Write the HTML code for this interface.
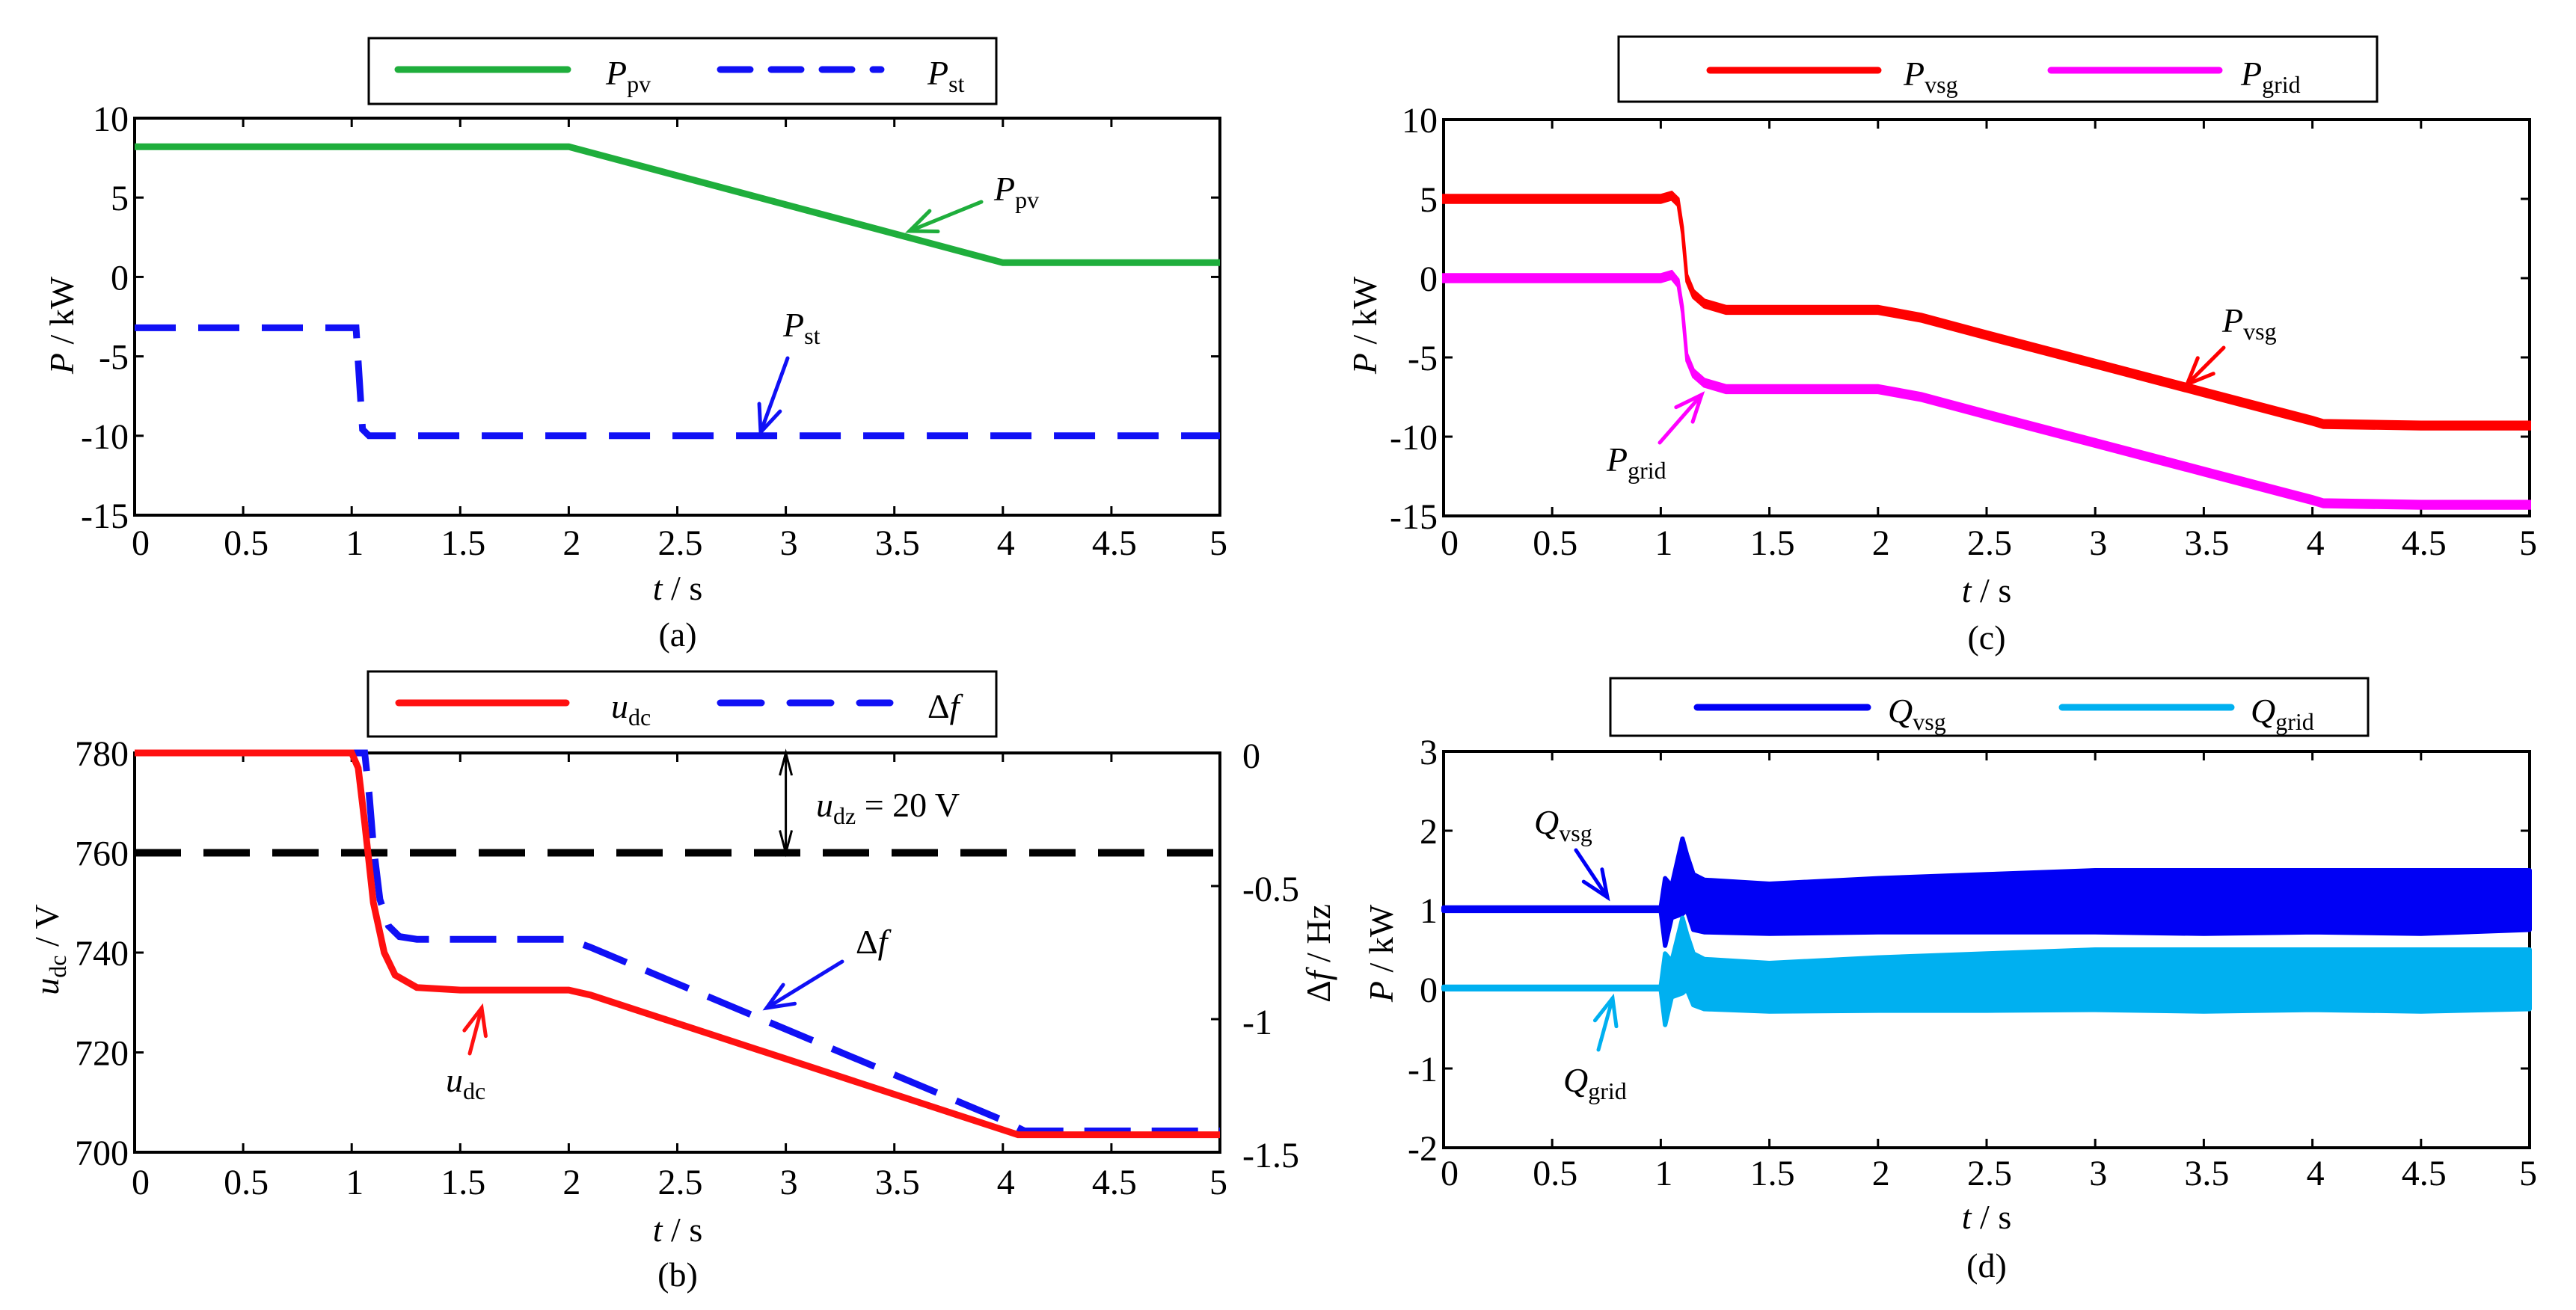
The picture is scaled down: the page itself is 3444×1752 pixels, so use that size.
<!DOCTYPE html>
<html><head><meta charset="utf-8"><style>
html,body{margin:0;padding:0;background:#fff;}
svg{display:block;font-family:"Liberation Serif",serif;}
</style></head><body>
<svg id="fig" width="3444" height="1752" viewBox="0 0 3444 1752" xmlns="http://www.w3.org/2000/svg">
<rect width="3444" height="1752" fill="#fff"/>
</svg>
<script>
// ---------- data ----------
const tickX = [0,0.5,1,1.5,2,2.5,3,3.5,4,4.5,5];
const tickLabelsX = ["0","0.5","1","1.5","2","2.5","3","3.5","4","4.5","5"];
// panel a
const tA_pv = [0,2,4,5];
const pPv = [8.2,8.2,0.9,0.9];
const tA_st = [0,1.02,1.05,1.08,5];
const pSt = [-3.2,-3.2,-9.6,-10,-10];
const ticksA = [10,5,0,-5,-10,-15];
// panel b
const tB_u = [0,1.0,1.03,1.06,1.1,1.15,1.2,1.3,1.5,2.0,2.1,4.0,4.07,4.5,5];
const uDc = [780,780,777,766,750,740,735.5,733,732.5,732.5,731.5,704.5,703.5,703.5,703.5];
const tB_f = [0,1.06,1.08,1.1,1.13,1.17,1.22,1.3,2.0,2.1,4.0,4.1,5];
const dF = [0,0,-0.15,-0.35,-0.55,-0.65,-0.69,-0.70,-0.70,-0.73,-1.38,-1.42,-1.42];
const ticksBL = [780,760,740,720,700];
const ticksBR = [0,-0.5,-1,-1.5];
const ticksBRLabels = ["0","-0.5","-1","-1.5"];
const uDz = 760;
// panel c
const tC = [0,1.0,1.05,1.08,1.1,1.12,1.15,1.2,1.3,1.5,2.0,2.2,2.5,3.0,3.5,4.0,4.05,4.5,5];
const pVsg = [5,5,5.2,4.8,3,0,-1,-1.6,-2,-2,-2,-2.5,-3.6,-5.4,-7.2,-9,-9.2,-9.3,-9.3];
const pGrid = [0,0,0.2,-0.3,-2,-5,-6,-6.6,-7,-7,-7,-7.5,-8.6,-10.4,-12.2,-14,-14.2,-14.3,-14.3];
const noiseC = 0.22;
// panel d
const tD = [0,1.0,1.02,1.05,1.1,1.12,1.15,1.2,1.5,2,2.5,3,3.5,4,4.5,5];
const qVsgHi = [1.03,1.03,1.4,1.3,1.9,1.7,1.45,1.38,1.33,1.4,1.45,1.5,1.5,1.5,1.5,1.5];
const qVsgLo = [0.99,0.99,0.55,0.9,0.95,1.0,0.75,0.72,0.7,0.72,0.72,0.72,0.7,0.72,0.7,0.75];
const qGridHi = [0.03,0.03,0.45,0.35,0.9,0.7,0.45,0.38,0.33,0.4,0.45,0.5,0.5,0.5,0.5,0.5];
const qGridLo = [0.0,0.0,-0.45,-0.1,-0.05,0.0,-0.2,-0.25,-0.28,-0.27,-0.27,-0.26,-0.28,-0.26,-0.28,-0.25];
const ticksD = [3,2,1,0,-1,-2];

// ---------- helpers ----------
const svg = document.getElementById('fig');
const NS = 'http://www.w3.org/2000/svg';
function mk(tag, attrs, parent){
  const e = document.createElementNS(NS, tag);
  for (const k in attrs) e.setAttribute(k, attrs[k]);
  (parent||svg).appendChild(e);
  return e;
}
function axes(L,R,T,B,x0,x1,y0,y1){
  return {
    x: v => L + (v-x0)/(x1-x0)*(R-L),
    y: v => B - (v-y0)/(y1-y0)*(B-T)
  };
}
function pathFrom(xs, ys, fx, fy){
  return xs.map((t,i)=>(i?'L':'M')+fx(t).toFixed(1)+' '+fy(ys[i]).toFixed(1)).join(' ');
}
function frame(g,L,R,T,B,fx,yTicks,fy,tickRight,xlabY){
  mk('rect',{x:L,y:T,width:R-L,height:B-T,fill:'none',stroke:'#000','stroke-width':4},g);
  tickX.forEach((v,i)=>{
    const X=fx(v);
    let t=mk('line',{x1:X,y1:B,x2:X,y2:B-12,stroke:'#000','stroke-width':3},g);
    
    
    mk('line',{x1:X,y1:T,x2:X,y2:T+12,stroke:'#000','stroke-width':3},g);
    const tx=mk('text',{x:X+(i===0?8:(i===10?-2:4)),y:xlabY,'font-size':48,'text-anchor':'middle'},g);
    tx.textContent=tickLabelsX[i];
    
    
  });
  yTicks.forEach(v=>{
    const Y=fy(v);
    mk('line',{x1:L,y1:Y,x2:L+12,y2:Y,stroke:'#000','stroke-width':3},g);
    if(tickRight) mk('line',{x1:R,y1:Y,x2:R-12,y2:Y,stroke:'#000','stroke-width':3},g);
    const ty=mk('text',{x:L-8,y:Y+17,'font-size':48,'text-anchor':'end'},g);
    ty.textContent=String(v);
    
    
  });
}
function txt(g,x,y,html,size,name,anchor){
  const t=mk('text',{x:x,y:y,'font-size':size||46,'text-anchor':anchor||'start'},g);
  t.innerHTML=html;
  
  
  return t;
}
function arrow(g,x1,y1,x2,y2,color,name){
  const a=mk('g',{},g);
  
  
  mk('line',{x1:x1,y1:y1,x2:x2,y2:y2,stroke:color,'stroke-width':5,'stroke-linecap':'round'},a);
  const ang=Math.atan2(y2-y1,x2-x1), L=38, w=0.4;
  const p=[[x2-L*Math.cos(ang-w),y2-L*Math.sin(ang-w)],[x2,y2],[x2-L*Math.cos(ang+w),y2-L*Math.sin(ang+w)]];
  mk('polyline',{points:p.map(q=>q.join(',')).join(' '),fill:'none',stroke:color,'stroke-width':5,'stroke-linecap':'round'},a);
}
function legend(g,x,y,w,h,items){
  const lg=mk('g',{},g);
  
  
  mk('rect',{x:x,y:y,width:w,height:h,fill:'#fff',stroke:'#000','stroke-width':3},lg);
  items.forEach(it=>{
    const e=mk('g',{},lg);
    
    
    const ln=mk('line',{x1:it.x1,y1:it.ly,x2:it.x2,y2:it.ly,stroke:it.color,'stroke-width':9,'stroke-linecap':'round'},e);
    if(it.dash) ln.setAttribute('stroke-dasharray',it.dash);
    txt(e,it.tx,it.ly+20,it.label,46,'legend-label');
  });
}
const sub = s => '<tspan font-size="32" dy="10">'+s+'</tspan>';
const it = s => '<tspan font-style="italic">'+s+'</tspan>';

// ---------- panel a ----------
(function(){
  const L=180,R=1631,T=158,B=689;
  const g=mk('g',{});  
  const A=axes(L,R,T,B,0,5,-15,10);
  frame(g,L,R,T,B,A.x,ticksA,A.y,true,742);
  let p=mk('path',{d:pathFrom(tA_pv,pPv,A.x,A.y),fill:'none',stroke:'#1fae3c','stroke-width':9},g);
   
  p=mk('path',{d:pathFrom(tA_st,pSt,A.x,A.y),fill:'none',stroke:'#1010f5','stroke-width':9,'stroke-dasharray':'55 30'},g);
   
  legend(g,493,51,839,88,[
    {x1:532,x2:759,ly:93,color:'#1fae3c',tx:810,label:it('P')+sub('pv')},
    {x1:963,x2:1178,ly:93,color:'#1010f5',dash:'40 28',tx:1240,label:it('P')+sub('st')}]);
  txt(g,1329,268,it('P')+sub('pv'),46,'p-pv-annotation');
  arrow(g,1312,270,1216,309,'#1fae3c','p-pv-arrow');
  txt(g,1047,450,it('P')+sub('st'),46,'p-st-annotation');
  arrow(g,1053,479,1017,578,'#1010f5','p-st-arrow');
  const yl=txt(g,0,0,it('P')+' / kW',46,'y-axis-title','middle');
  yl.setAttribute('transform','translate(98,435) rotate(-90)');
  txt(g,906,802,it('t')+' / s',46,'x-axis-title','middle');
  txt(g,906,864,'(a)',46,'caption-a','middle');
})();

// ---------- panel b ----------
(function(){
  const L=180,R=1631,T=1007,B=1541;
  const g=mk('g',{});  
  const A=axes(L,R,T,B,0,5,700,780);
  const Af=axes(L,R,T,B,0,5,-1.5,0);
  frame(g,L,R,T,B,A.x,ticksBL,A.y,false,1597);
  ticksBR.forEach((v,i)=>{
    const Y=Af.y(v);
    mk('line',{x1:R,y1:Y,x2:R-12,y2:Y,stroke:'#000','stroke-width':3},g);
    txt(g,R+30,Y+20,ticksBRLabels[i],48,'right-tick-label');
  });
  let d=mk('line',{x1:A.x(0),y1:A.y(uDz),x2:A.x(5),y2:A.y(uDz),stroke:'#000','stroke-width':10,'stroke-dasharray':'62 30'},g);
   
  let p=mk('path',{d:pathFrom(tB_f,dF,Af.x,Af.y),fill:'none',stroke:'#1010f5','stroke-width':9,'stroke-dasharray':'62 28'},g);
   
  p=mk('path',{d:pathFrom(tB_u,uDc,A.x,A.y),fill:'none',stroke:'#ff1010','stroke-width':9},g);
   
  const xa=A.x(3);
  const da=mk('g',{},g);  
  mk('line',{x1:xa,y1:A.y(780),x2:xa,y2:A.y(760),stroke:'#000','stroke-width':3},da);
  mk('polyline',{points:`${xa-8},${A.y(780)+30} ${xa},${A.y(780)} ${xa+8},${A.y(780)+30}`,fill:'none',stroke:'#000','stroke-width':3},da);
  mk('polyline',{points:`${xa-8},${A.y(760)-30} ${xa},${A.y(760)} ${xa+8},${A.y(760)-30}`,fill:'none',stroke:'#000','stroke-width':3},da);
  txt(g,1091,1092,it('u')+sub('dz')+'<tspan dy="-10"> = 20 V</tspan>',46,'udz-annotation');
  legend(g,492,898,840,87,[
    {x1:533,x2:757,ly:940,color:'#ff1010',tx:817,label:it('u')+sub('dc')},
    {x1:963,x2:1190,ly:940,color:'#1010f5',dash:'55 38',tx:1240,label:'Δ'+it('f')}]);
  txt(g,1144,1275,'Δ'+it('f'),46,'delta-f-annotation');
  arrow(g,1126,1286,1025,1348,'#1010f5','delta-f-arrow');
  txt(g,596,1460,it('u')+sub('dc'),46,'udc-annotation');
  arrow(g,628,1409,644,1348,'#ff1010','udc-arrow');
  let yl=txt(g,0,0,it('u')+sub('dc')+'<tspan dy="-10"> / V</tspan>',46,'y-axis-title-left','middle');
  yl.setAttribute('transform','translate(78,1270) rotate(-90)');
  yl=txt(g,0,0,'Δ'+it('f')+' / Hz',46,'y-axis-title-right','middle');
  yl.setAttribute('transform','translate(1778,1275) rotate(-90)');
  txt(g,906,1660,it('t')+' / s',46,'x-axis-title','middle');
  txt(g,906,1720,'(b)',46,'caption-b','middle');
})();

// ---------- panel c ----------
(function(){
  const L=1930,R=3382,T=160,B=690;
  const g=mk('g',{});  
  const A=axes(L,R,T,B,0,5,-15,10);
  frame(g,L,R,T,B,A.x,ticksA,A.y,true,742);
  function band(vals,color,name){
    const up=tC.map((t,i)=>A.x(t).toFixed(1)+','+A.y(vals[i]+noiseC).toFixed(1));
    const lo=tC.map((t,i)=>A.x(t).toFixed(1)+','+A.y(vals[i]-noiseC).toFixed(1)).reverse();
    const b=mk('polygon',{points:up.concat(lo).join(' '),fill:color,stroke:color,'stroke-width':4},g);
     
  }
  band(pVsg,'#ff0000','p-vsg-line');
  band(pGrid,'#ff00ff','p-grid-line');
  legend(g,2164,49,1014,87,[
    {x1:2286,x2:2511,ly:94,color:'#ff0000',tx:2545,label:it('P')+sub('vsg')},
    {x1:2742,x2:2967,ly:94,color:'#ff00ff',tx:2996,label:it('P')+sub('grid')}]);
  txt(g,2971,444,it('P')+sub('vsg'),46,'p-vsg-annotation');
  arrow(g,2973,465,2924,514,'#ff0000','p-vsg-arrow');
  txt(g,2148,630,it('P')+sub('grid'),46,'p-grid-annotation');
  arrow(g,2219,592,2275,528,'#ff00ff','p-grid-arrow');
  const yl=txt(g,0,0,it('P')+' / kW',46,'y-axis-title','middle');
  yl.setAttribute('transform','translate(1840,435) rotate(-90)');
  txt(g,2656,805,it('t')+' / s',46,'x-axis-title','middle');
  txt(g,2656,868,'(c)',46,'caption-c','middle');
})();

// ---------- panel d ----------
(function(){
  const L=1930,R=3382,T=1005,B=1535;
  const g=mk('g',{});  
  const A=axes(L,R,T,B,0,5,-2,3);
  frame(g,L,R,T,B,A.x,ticksD,A.y,true,1585);
  function band(hi,lo,color,name){
    const up=tD.map((t,i)=>A.x(t).toFixed(1)+','+A.y(hi[i]).toFixed(1));
    const dn=tD.map((t,i)=>A.x(t).toFixed(1)+','+A.y(lo[i]).toFixed(1)).reverse();
    const b=mk('polygon',{points:up.concat(dn).join(' '),fill:color,stroke:color,'stroke-width':6,'stroke-linejoin':'round'},g);
     
  }
  band(qVsgHi,qVsgLo,'#0000f5','q-vsg-line');
  band(qGridHi,qGridLo,'#00b0f0','q-grid-line');
  legend(g,2153,907,1013,77,[
    {x1:2269,x2:2497,ly:946,color:'#0000f5',tx:2524,label:it('Q')+sub('vsg')},
    {x1:2757,x2:2983,ly:946,color:'#00b0f0',tx:3009,label:it('Q')+sub('grid')}]);
  txt(g,2051,1115,it('Q')+sub('vsg'),46,'q-vsg-annotation');
  arrow(g,2107,1137,2149,1200,'#0000f5','q-vsg-arrow');
  txt(g,2090,1460,it('Q')+sub('grid'),46,'q-grid-annotation');
  arrow(g,2137,1404,2156,1335,'#00b0f0','q-grid-arrow');
  const yl=txt(g,0,0,it('P')+' / kW',46,'y-axis-title','middle');
  yl.setAttribute('transform','translate(1862,1275) rotate(-90)');
  txt(g,2656,1643,it('t')+' / s',46,'x-axis-title','middle');
  txt(g,2656,1708,'(d)',46,'caption-d','middle');
})();
</script>
</body></html>
